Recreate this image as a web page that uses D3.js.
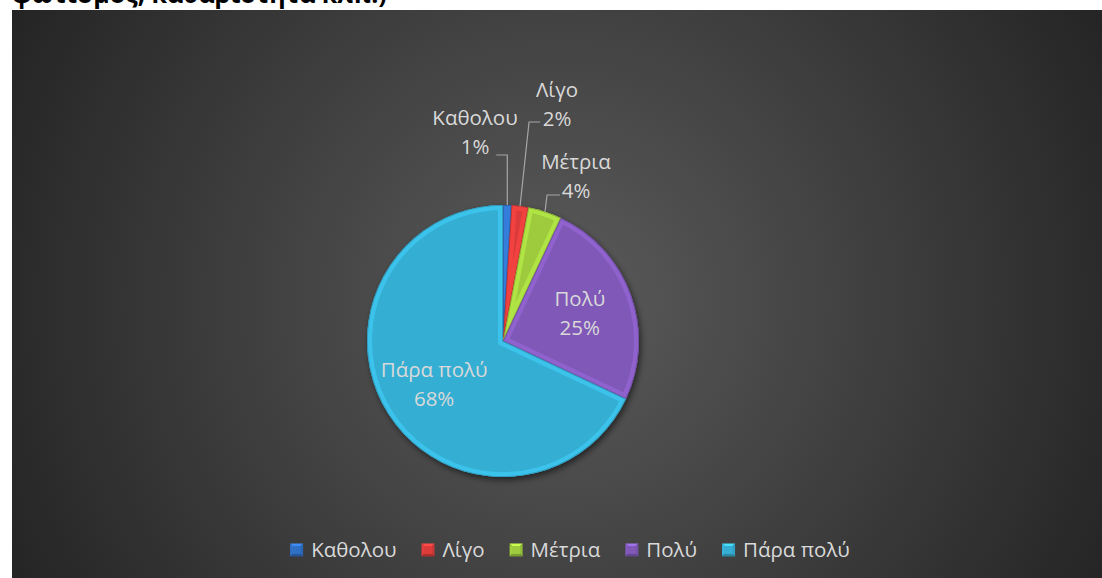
<!DOCTYPE html>
<html>
<head>
<meta charset="utf-8">
<script src="https://cdn.jsdelivr.net/npm/d3@7"></script>
<style>
  html, body { margin: 0; padding: 0; background: #ffffff; }
  svg { display: block; }
</style>
</head>
<body>
<svg id="chart" width="1102" height="578"></svg>
<script>
// Survey answers and their shares (%)
const categories = ["Καθολου", "Λίγο", "Μέτρια", "Πολύ", "Πάρα πολύ"];
const values = [1, 2, 4, 25, 68];
const valueLabels = ["1%", "2%", "4%", "25%", "68%"];
const colors = ["#2f6fc4", "#dc3b3a", "#9dcb3d", "#8058b8", "#36aed3"];
const titleText = "φωτισμός, καθαριότητα κλπ.)";

const W = 1102, H = 578;
const FONT = "'Open Sans', 'Noto Sans', sans-serif";
const FS = 20.5;
const svg = d3.select("#chart");
const defs = svg.append("defs");

// ---- chart background (dark radial gradient) ----
const bg = defs.append("radialGradient")
  .attr("id", "bgGrad").attr("gradientUnits", "userSpaceOnUse")
  .attr("cx", 560).attr("cy", 300).attr("r", 620);
bg.append("stop").attr("offset", 0).attr("stop-color", "#5b5b5b");
bg.append("stop").attr("offset", 1).attr("stop-color", "#242424");

svg.append("rect").attr("x", 12).attr("y", 10)
  .attr("width", W - 12).attr("height", H - 10)
  .attr("fill", "url(#bgGrad)");

// title (continues above the top of the page)
svg.append("text").attr("x", 12).attr("y", 3)
  .attr("font-family", FONT).attr("font-weight", 700)
  .attr("font-size", 25).attr("fill", "#000")
  .text(titleText);

// ---- pie ----
const cx = 503, cy = 341, R = 136;
const data = categories.map((c, i) => ({ cat: c, value: values[i], label: valueLabels[i], color: colors[i] }));
const pie = d3.pie().sort(null).value(d => d.value);
const arcs = pie(data);
const arc = d3.arc().innerRadius(0).outerRadius(R);

const shadow = defs.append("filter").attr("id", "pieShadow")
  .attr("x", "-20%").attr("y", "-20%").attr("width", "140%").attr("height", "140%");
shadow.append("feDropShadow").attr("dx", 2).attr("dy", 3)
  .attr("stdDeviation", 3).attr("flood-color", "#000").attr("flood-opacity", 0.55);

const g = svg.append("g").attr("transform", `translate(${cx},${cy})`);
const shadowG = g.append("g").attr("filter", "url(#pieShadow)");
shadowG.selectAll("path.base").data(arcs).join("path")
  .attr("class", "base")
  .attr("d", arc)
  .attr("fill", d => d.data.color);

// bevel: clipped light rim along every slice edge, plus a thin darker outline
arcs.forEach((d, i) => {
  defs.append("clipPath").attr("id", "clip" + i)
    .append("path").attr("d", arc(d));
  const rimColor = d3.color(d.data.color).brighter(0.5);
  g.append("path").attr("d", arc(d))
    .attr("clip-path", `url(#clip${i})`)
    .attr("fill", "none")
    .attr("stroke", rimColor).attr("stroke-width", 10).attr("stroke-opacity", 0.6);
  g.append("path").attr("d", arc(d))
    .attr("clip-path", `url(#clip${i})`)
    .attr("fill", "none")
    .attr("stroke", d3.color(d.data.color).darker(0.6)).attr("stroke-width", 1.6).attr("stroke-opacity", 0.8);
});

// ---- data labels ----
const labelColor = "#d9d9d9";
const lineColor = "#a6a6a6";
const lineGap = 29;

// outside labels for the narrow slices: elbow and text positions around the rim point
const outsideLayout = {
  "Καθολου": { elbowDx: 0, elbowY: 155, endDx: -11, textX: 475, textY: 118 },
  "Λίγο":    { elbowDx: 9, elbowY: 122, endDx: 11, textX: 557, textY: 90 },
  "Μέτρια":  { elbowDx: 2, elbowY: 195, endDx: 13, textX: 576, textY: 162 }
};

const rimArc = d3.arc().innerRadius(R).outerRadius(R);
const inArc = d3.arc().innerRadius(R * 0.6).outerRadius(R * 0.6);

arcs.forEach(d => {
  const lay = outsideLayout[d.data.cat];
  let tx, ty;
  if (lay) {
    const [px, py] = rimArc.centroid(d);
    const x0 = cx + px, y0 = cy + py;
    const ex = x0 + lay.elbowDx;
    svg.append("polyline")
      .attr("points", [[x0, y0], [ex, lay.elbowY], [ex + lay.endDx, lay.elbowY]].map(p => p.join(",")).join(" "))
      .attr("fill", "none").attr("stroke", lineColor).attr("stroke-width", 1.2);
    tx = lay.textX; ty = lay.textY;
  } else {
    const [px, py] = inArc.centroid(d);
    tx = cx + px; ty = cy + py - lineGap / 2;
  }
  const t = svg.append("text")
    .attr("font-family", FONT).attr("font-size", FS)
    .attr("fill", labelColor).attr("text-anchor", "middle");
  t.append("tspan").attr("x", tx).attr("y", ty).attr("dy", "0.35em").text(d.data.cat);
  t.append("tspan").attr("x", tx).attr("y", ty + lineGap).attr("dy", "0.35em").text(d.data.label);
});

// ---- legend ----
const legend = svg.append("g");
const sq = 13, sqGap = 8, itemGap = 25, legendY = 550, legendCenter = 570;
let xpos = 0;
const items = data.map(d => {
  const it = legend.append("g");
  const c = d3.color(d.color);
  // bevelled swatch built from four triangles
  const tri = (pts, fill) => it.append("polygon").attr("points", pts.map(p => p.join(",")).join(" ")).attr("fill", fill);
  const h = sq / 2;
  tri([[0, 0], [sq, 0], [h, h]], c.brighter(0.7));
  tri([[0, 0], [h, h], [0, sq]], c.brighter(0.1));
  tri([[sq, 0], [sq, sq], [h, h]], c.darker(0.2));
  tri([[0, sq], [h, h], [sq, sq]], c.darker(0.7));
  it.append("rect").attr("x", 2.5).attr("y", 2.5).attr("width", sq - 5).attr("height", sq - 5).attr("fill", c);
  const txt = it.append("text").attr("x", sq + sqGap).attr("y", h).attr("dy", "0.35em")
    .attr("font-family", FONT).attr("font-size", FS).attr("fill", labelColor).text(d.cat);
  const w = sq + sqGap + txt.node().getComputedTextLength();
  const start = xpos;
  xpos += w + itemGap;
  return { it, start };
});
const total = xpos - itemGap;
const x0 = legendCenter - total / 2;
items.forEach(({ it, start }) => it.attr("transform", `translate(${x0 + start},${legendY - sq / 2})`));
</script>
</body>
</html>
